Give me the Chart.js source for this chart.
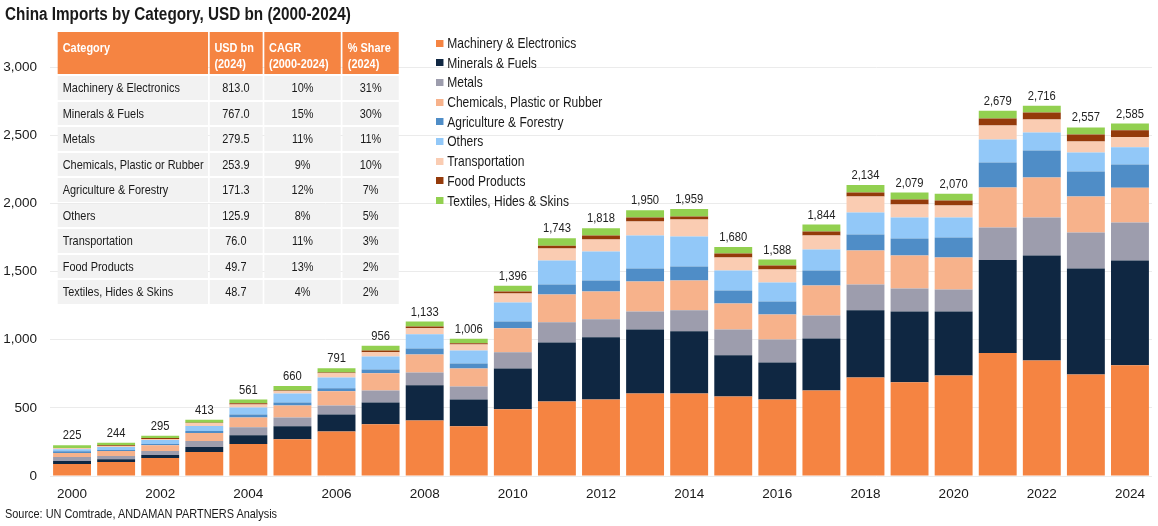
<!DOCTYPE html>
<html><head><meta charset="utf-8">
<script src="https://cdn.jsdelivr.net/npm/chart.js@4.4.1/dist/chart.umd.min.js"></script>
<style>
html,body{margin:0;padding:0;background:#fff;}
#wrap{position:relative;width:1158px;height:526px;overflow:hidden;font-family:"Liberation Sans","Arial",sans-serif;color:#1a1a1a;}
#c{position:absolute;left:0;top:0;}
#title{position:absolute;left:5px;top:4px;font-size:18px;font-weight:bold;white-space:nowrap;transform:scaleX(0.85);transform-origin:left top;}
#source{position:absolute;left:5px;top:506px;font-size:13px;white-space:nowrap;transform:scaleX(0.84);transform-origin:left top;}
#tblbox{position:absolute;left:56px;top:30px;transform:scaleX(0.84);transform-origin:left top;}
#tbl{border-collapse:separate;border-spacing:2.4px 2px;table-layout:fixed;font-size:13px;}
#tbl th{background:#F58442;color:#fff;font-weight:bold;text-align:left;vertical-align:top;padding:8px 0 0 6px;height:34px;line-height:16px;box-sizing:content-box;white-space:nowrap;}
#tbl td{background:#F2F2F2;height:23.5px;padding:0;text-align:center;line-height:23px;white-space:nowrap;}
#tbl td.cat{text-align:left;padding-left:6px;}
#legend{position:absolute;left:436px;top:34px;font-size:14.5px;transform:scaleX(0.83);transform-origin:left top;}
#legend .it{height:19.7px;line-height:19.7px;white-space:nowrap;}
#legend .sw{display:inline-block;width:8.5px;height:7px;margin-right:5px;vertical-align:middle;position:relative;top:-1px;}
</style>
</head><body>
<div id="wrap">
<canvas id="c" width="1158" height="526"></canvas>
<div id="title">China Imports by Category, USD bn (2000-2024)</div>
<div id="tblbox"><table id="tbl"></table></div>
<div id="legend"></div>
<div id="source">Source: UN Comtrade, ANDAMAN PARTNERS Analysis</div>
</div>
<script>
const years = ["2000","2001","2002","2003","2004","2005","2006","2007","2008","2009","2010","2011","2012","2013","2014","2015","2016","2017","2018","2019","2020","2021","2022","2023","2024"];
const machinery = [88,103,132,176,235,269,327,379,408,364,489,547,562,606,606,584,562,628,723,687,738,902,848,745,813.0];
const minerals  = [22,19,22,37,63,95,125,161,257,198,300,433,455,469,455,301,271,381,492,520,469,682,770,777,767.0];
const metals    = [29,25,29,44,59,66,66,88,95,95,118,147,132,132,154,190,169,169,190,169,161,239,278,264,279.5];
const chemicals = [30,36,42,58,73,88,103,125,132,132,176,205,205,220,219,191,183,220,249,242,235,293,294,264,253.9];
const agriculture = [12,8,10,15,22,22,22,29,44,37,51,73,80,95,103,95,95,110,118,124,147,184,198,184,171.3];
const others    = [15,22,29,37,51,66,80,95,103,95,139,176,213,242,220,147,140,154,161,154,146,168,131,139,125.9];
const transportation = [7,7,7,22,22,15,30,30,44,44,66,88,88,103,125,95,95,102,117,96,88,103,96,80,76.0];
const food      = [2,5,8,2,8,7,7,14,14,8,15,20,29,29,22,29,29,30,30,36,37,51,51,52,49.7];
const textiles  = [20,19,16,22,28,32,31,35,36,33,42,54,54,54,55,48,44,50,54,51,49,57,50,52,48.7];

const seriesNames = ["Machinery & Electronics","Minerals & Fuels","Metals","Chemicals, Plastic or Rubber","Agriculture & Forestry","Others","Transportation","Food Products","Textiles, Hides & Skins"];
const seriesColors = ["#F58442","#0F2742","#9D9DAD","#F7B28B","#4F8DC7","#92C8F8","#FACCB2","#943A0A","#92D050"];
const seriesData = [machinery,minerals,metals,chemicals,agriculture,others,transportation,food,textiles];

const tableHeader = ["Category","USD bn<br>(2024)","CAGR<br>(2000-2024)","% Share<br>(2024)"];
const tableUsd = ["813.0","767.0","279.5","253.9","171.3","125.9","76.0","49.7","48.7"];
const tableCagr = ["10%","15%","11%","9%","12%","8%","11%","13%","4%"];
const tableShare = ["31%","30%","11%","10%","7%","5%","3%","2%","2%"];
const yTicks = [0,500,1000,1500,2000,2500,3000];

const FONT = "'Liberation Sans',Arial,sans-serif";
const SQ = 0.83;

// table (built at un-condensed width, then condensed horizontally)
const colW = [150,53,77,56].map(w=>w/0.84);
let html = '<colgroup>' + colW.map(w=>'<col style="width:'+w+'px">').join('') + '</colgroup><tr>';
tableHeader.forEach((h,i)=>{ html += '<th style="width:'+(colW[i]-6)+'px">'+h+'</th>'; });
html += '</tr>';
seriesNames.forEach((n,i)=>{
  html += '<tr><td class="cat">'+n+'</td><td>'+tableUsd[i]+'</td><td>'+tableCagr[i]+'</td><td>'+tableShare[i]+'</td></tr>';
});
document.getElementById('tbl').innerHTML = html;

// legend
document.getElementById('legend').innerHTML = seriesNames.map((n,i)=>
  '<div class="it"><span class="sw" style="background:'+seriesColors[i]+'"></span>'+n+'</div>').join('');

const totalsPlugin = {
  id:'totals',
  afterDatasetsDraw(chart){
    const ctx = chart.ctx, xs = chart.scales.x, ys = chart.scales.y;
    ctx.save();
    ctx.font = "13.5px " + FONT;
    ctx.fillStyle = "#222";
    ctx.textAlign = "center";
    ctx.textBaseline = "alphabetic";
    years.forEach((y,i)=>{
      let t = 0;
      chart.data.datasets.forEach(ds=>{ t += ds.data[i]; });
      const px = xs.getPixelForValue(i);
      const py = ys.getPixelForValue(t) - 6;
      ctx.save();
      ctx.translate(px, py);
      ctx.scale(SQ, 1);
      ctx.fillText(Math.round(t).toLocaleString('en-US'), 0, 0);
      ctx.restore();
    });
    ctx.restore();
  }
};

new Chart(document.getElementById('c'), {
  type:'bar',
  data:{
    labels: years,
    datasets: seriesNames.map((n,i)=>({
      label:n, data:seriesData[i], backgroundColor:seriesColors[i],
      borderWidth:0, categoryPercentage:1, barPercentage:0.86
    }))
  },
  options:{
    responsive:false, animation:false, devicePixelRatio:1,
    layout:{padding:{top:67,right:6,bottom:20,left:0}},
    plugins:{legend:{display:false}, tooltip:{enabled:false}},
    scales:{
      x:{
        stacked:true,
        grid:{display:false, drawTicks:false},
        border:{display:false},
        ticks:{autoSkip:false, maxRotation:0, padding:10, color:"#1a1a1a",
          font:{family:FONT, size:13.5},
          callback:(v,i)=> (i%2===0 ? years[i] : '')},
        afterFit:(s)=>{ s.height = 30; }
      },
      y:{
        stacked:true, min:0, max:3000,
        afterBuildTicks:(s)=>{ s.ticks = yTicks.map(v=>({value:v})); },
        grid:{color:"#EBEBEB", lineWidth:1, drawTicks:false},
        border:{display:false},
        ticks:{padding:13, color:"#1a1a1a", font:{family:FONT, size:13.5},
          callback:(v)=> Number(v).toLocaleString('en-US')},
        afterFit:(s)=>{ s.width = 50; }
      }
    }
  },
  plugins:[totalsPlugin]
});
</script>
</body></html>
